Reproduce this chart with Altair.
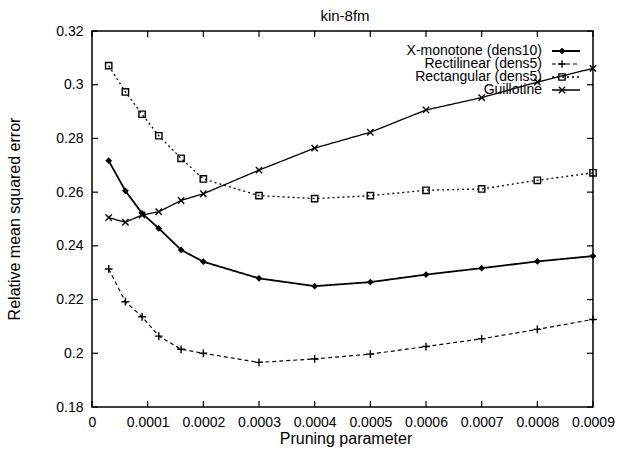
import altair as alt
import pandas as pd

# ---------------- data ----------------
x_vals = [0.00003, 0.00006, 0.00009, 0.00012, 0.00016, 0.0002, 0.0003,
          0.0004, 0.0005, 0.0006, 0.0007, 0.0008, 0.0009]
xmono = [0.2717, 0.2605, 0.2521, 0.2465, 0.2385, 0.2341, 0.2279,
         0.2250, 0.2265, 0.2293, 0.2317, 0.2342, 0.2362]
rectilinear = [0.2314, 0.2192, 0.2136, 0.2064, 0.2015, 0.2000, 0.1966,
               0.1979, 0.1997, 0.2025, 0.2054, 0.2089, 0.2126]
rectangular = [0.3071, 0.2973, 0.2890, 0.2810, 0.2726, 0.2649, 0.2587,
               0.2576, 0.2587, 0.2607, 0.2612, 0.2644, 0.2672]
guillotine = [0.2505, 0.2488, 0.2515, 0.2527, 0.2569, 0.2594, 0.2682,
              0.2764, 0.2823, 0.2906, 0.2952, 0.3010, 0.3061]

series_names = ["X-monotone (dens10)", "Rectilinear (dens5)",
                "Rectangular (dens5)", "Guillotine"]
series_values = [xmono, rectilinear, rectangular, guillotine]

x_ticks = [0, 0.0001, 0.0002, 0.0003, 0.0004, 0.0005, 0.0006, 0.0007, 0.0008, 0.0009]
y_ticks = [0.18, 0.2, 0.22, 0.24, 0.26, 0.28, 0.3, 0.32]

title_text = "kin-8fm"
x_title = "Pruning parameter"
y_title = "Relative mean squared error"

# ---------------- styles ----------------
W, H = 501, 376
FONT = "Liberation Sans"
PLUS = "M-1,0L1,0M0,-1L0,1"
CROSS = "M-1,-1L1,1M-1,1L1,-1"
styles = [
    dict(width=1.8, dash=[1, 0], shape="diamond", filled=True, size=45),
    dict(width=1.2, dash=[4, 3], shape=PLUS, filled=False, size=60),
    dict(width=1.3, dash=[2, 3], shape="square", filled=False, size=40),
    dict(width=1.3, dash=[1, 0], shape=CROSS, filled=False, size=40),
]

xscale = alt.Scale(domain=[0, 0.0009], nice=False, zero=False)
yscale = alt.Scale(domain=[0.18, 0.32], nice=False, zero=False)
xaxis = alt.Axis(values=x_ticks, format="~g", title=None, grid=False,
                 ticks=False, domain=False, labelFont=FONT, labelFontSize=14,
                 labelColor="black", labelPadding=8, labelFlush=False,
                 labelOverlap=False)
yaxis = alt.Axis(values=y_ticks, format="~g", title=None, grid=False,
                 ticks=False, domain=False, labelFont=FONT, labelFontSize=14,
                 labelColor="black", labelPadding=9, labelFlush=False,
                 labelOverlap=False)

layers = []

for i, (name, vals) in enumerate(zip(series_names, series_values)):
    st = styles[i]
    df = pd.DataFrame({"x": x_vals, "y": vals})
    base = alt.Chart(df).encode(
        x=alt.X("x:Q", scale=xscale, axis=xaxis),
        y=alt.Y("y:Q", scale=yscale, axis=yaxis))
    layers.append(base.mark_line(color="black", strokeWidth=st["width"],
                                 strokeDash=st["dash"]))
    layers.append(base.mark_point(shape=st["shape"], filled=st["filled"],
                                  size=st["size"], color="black",
                                  strokeWidth=1.4, opacity=1))

# inward ticks on all four sides
xt = pd.DataFrame({"x": x_ticks})
yt = pd.DataFrame({"y": y_ticks})
TL = 6
layers.append(alt.Chart(xt).mark_rule(color="black", strokeWidth=1.2).encode(
    x=alt.X("x:Q", scale=xscale, axis=xaxis), y=alt.value(H), y2=alt.value(H - TL)))
layers.append(alt.Chart(xt).mark_rule(color="black", strokeWidth=1.2).encode(
    x=alt.X("x:Q", scale=xscale, axis=xaxis), y=alt.value(0), y2=alt.value(TL)))
layers.append(alt.Chart(yt).mark_rule(color="black", strokeWidth=1.2).encode(
    y=alt.Y("y:Q", scale=yscale, axis=yaxis), x=alt.value(0), x2=alt.value(TL)))
layers.append(alt.Chart(yt).mark_rule(color="black", strokeWidth=1.2).encode(
    y=alt.Y("y:Q", scale=yscale, axis=yaxis), x=alt.value(W), x2=alt.value(W - TL)))

# legend (inside, top right)
row_y = [20, 33, 46, 59]
for i, name in enumerate(series_names):
    st = styles[i]
    one = pd.DataFrame({"t": [name]})
    layers.append(alt.Chart(one).mark_text(
        align="right", baseline="middle", font=FONT, fontSize=14,
        color="black").encode(text="t:N", x=alt.value(450), y=alt.value(row_y[i])))
    layers.append(alt.Chart(one).mark_rule(
        color="black", strokeWidth=st["width"], strokeDash=st["dash"]).encode(
        x=alt.value(460), x2=alt.value(488), y=alt.value(row_y[i])))
    layers.append(alt.Chart(one).mark_point(
        shape=st["shape"], filled=st["filled"], size=st["size"], color="black",
        strokeWidth=1.4, opacity=1).encode(x=alt.value(470), y=alt.value(row_y[i])))

# titles
layers.append(alt.Chart(pd.DataFrame({"t": [title_text]})).mark_text(
    align="center", baseline="alphabetic", font=FONT, fontSize=15,
    color="black").encode(text="t:N", x=alt.value(253), y=alt.value(-10)))
layers.append(alt.Chart(pd.DataFrame({"t": [x_title]})).mark_text(
    align="center", baseline="alphabetic", font=FONT, fontSize=16,
    color="black").encode(text="t:N", x=alt.value(254), y=alt.value(413)))
layers.append(alt.Chart(pd.DataFrame({"t": [y_title]})).mark_text(
    align="center", baseline="middle", font=FONT, fontSize=16, angle=270,
    color="black").encode(text="t:N", x=alt.value(-77), y=alt.value(188)))

chart = alt.layer(*layers).properties(
    width=W, height=H, autosize="none",
    padding={"left": 92, "top": 31, "right": 25, "bottom": 43},
).configure_view(stroke="black", strokeWidth=1.5)

chart.save("out.html", embed_options={"renderer": "svg", "actions": False})
